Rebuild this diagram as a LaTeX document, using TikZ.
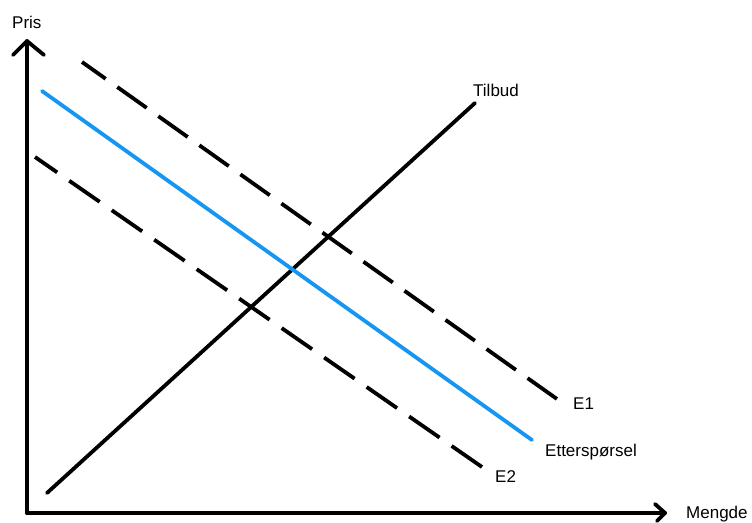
\documentclass[tikz,border=0pt]{standalone}
\usepackage{fontspec}
\setmainfont{Liberation Sans}
\definecolor{demandblue}{RGB}{22,150,240}
\begin{document}
\begin{tikzpicture}[x=1pt,y=-1pt,
  axis/.style={line width=3.8pt,line cap=round,line join=round},
  curve/.style={line width=3.8pt,line cap=round},
  shifted/.style={line width=3.8pt},
  lbl/.style={anchor=base west,inner sep=0pt,font=\fontsize{17}{20}\selectfont}]
\useasboundingbox (0,0) rectangle (752,522);
% axes
\coordinate (O) at (27,513);
\coordinate (ytip) at (27,41);
\coordinate (xtip) at (665,513);
\coordinate (yl) at (13,55);
\coordinate (yr) at (44,55);
\coordinate (xu) at (655,504);
\coordinate (xd) at (657,521);
\draw[axis] (O) -- (ytip);
\draw[axis] (O) -- (xtip);
\draw[axis] (yl) -- (ytip) -- (yr);
\draw[axis] (xu) -- (xtip) -- (xd);
% supply
\coordinate (s0) at (47,493);
\coordinate (s1) at (475,103);
\draw[curve] (s0) -- (s1);
% demand
\coordinate (d0) at (42,91);
\coordinate (d1) at (532,440);
\draw[curve,demandblue] (d0) -- (d1);
% E1
\coordinate (e10) at (82,62);
\coordinate (e11) at (557,399);
\draw[shifted,dash pattern=on 36pt off 14.3pt,dash phase=7pt] (e10) -- (e11);
% E2
\coordinate (e20) at (35,157);
\coordinate (e21) at (482,467);
\draw[shifted,dash pattern=on 37pt off 14.7pt,dash phase=10pt] (e20) -- (e21);
% labels
\node[lbl] (pris) at (12,28) {Pris};
\node[lbl] (mengde) at (686,518) {Mengde};
\node[lbl] (tilbud) at (473,96) {Tilbud};
\node[lbl] (e1) at (573,409) {E1};
\node[lbl] (ett) at (545,456) {Etterspørsel};
\node[lbl] (e2) at (495,482) {E2};
\end{tikzpicture}
\end{document}
